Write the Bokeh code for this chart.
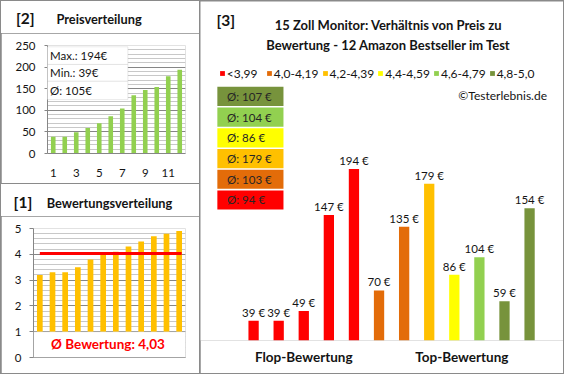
import bisect
from bokeh.plotting import figure
from bokeh.models import Range1d, FixedTicker, BoxAnnotation, Label, Legend, LegendItem, Div
from bokeh.layouts import row, column
from bokeh.embed import file_html
from bokeh.resources import INLINE
from bokeh.core.properties import value

# ---------------- data ----------------
# products in the order of the main chart (sorted by rating)
ratings = [3.2, 3.3, 3.3, 3.5, 3.8, 4.0, 4.1, 4.3, 4.5, 4.7, 4.8, 4.9]
prices = [39, 39, 49, 147, 194, 70, 135, 179, 86, 104, 59, 154]
price_axis_ticks = [1, 3, 5, 7, 9, 11]
price_y_ticks = [0, 50, 100, 150, 200, 250]
rating_y_ticks = [0, 1, 2, 3, 4, 5]
class_labels = ["<3,99", "4,0-4,19", "4,2-4,39", "4,4-4,59", "4,6-4,79", "4,8-5,0"]
class_bounds = [4.0, 4.2, 4.4, 4.6, 4.8]
class_colors = ["#FF0000", "#E36C09", "#FFC000", "#FFFF00", "#92D050", "#77933C"]
group_labels = ["Flop-Bewertung", "Top-Bewertung"]
group_ticks = [3, 9.3]
title_a = ["[2]", "Preisverteilung"]
title_b = ["[1]", "Bewertungsverteilung"]
title_c = ["[3]", "15 Zoll Monitor: Verhältnis von Preis zu",
           "Bewertung - 12 Amazon Bestseller im Test"]

# ---------------- derived ----------------
n = len(prices)
idx = list(range(1, n + 1))
prices_sorted = sorted(prices)
ratings_sorted = sorted(ratings)
classes = [bisect.bisect_right(class_bounds, r + 1e-9) for r in ratings]


def rhu(v):
    return int(v + 0.5)


def de(v, d=2):
    return f"{v:.{d}f}".replace(".", ",")


# ---------------- layout constants ----------------
TOTAL_W, TOTAL_H = 564, 374
SX = TOTAL_W / 580
SY = TOTAL_H / 390
WL, WR = 198, 363
HA, HB, HC = 182, 189, 372
STRIP = 32
FONT = "Lato"
TXT = "#141414"
BORDER = "#8a8a8a"
GMAJ = "#868686"
GMIN = "#c8c8c8"


def mapper(ox, oy, fl, ft, fw, fh, xr, yr):
    # ox, oy: screen position of the figure's top-left corner
    def px2x(px):
        return xr[0] + (px - fl) / fw * (xr[1] - xr[0])

    def py2y(py):
        return yr[0] + (ft + fh - py) / fh * (yr[1] - yr[0])

    def X(rx):
        return px2x(rx * SX - ox)

    def Y(ry):
        return py2y(ry * SY - oy)

    return X, Y


def label(p, x, y, text, size, bold=False, color=TXT, align="left"):
    p.add_layout(Label(x=x, y=y, text=text, text_font=FONT, text_font_size=size,
                       text_font_style="bold" if bold else "normal", text_color=color,
                       text_align=align, text_baseline="middle"))


def strip(w, h, ox, oy, texts):
    spans = []
    for rx, ry, t, size in texts:
        spans.append(
            f'<span style="position:absolute;left:{rx * SX - ox:.1f}px;top:{ry * SY - oy:.1f}px;'
            f'transform:translateY(-50%);font-size:{size};line-height:1;font-weight:bold;'
            f'white-space:nowrap;">{t}</span>')
    html = (f'<div style="position:relative;width:{w}px;height:{h}px;font-family:{FONT};'
            f'color:{TXT};overflow:hidden;">' + "".join(spans) + "</div>")
    return Div(text=html, width=w, height=h, margin=(0, 0, 0, 0),
               styles={"background-color": "white"})


def style_axes(p):
    for ax in p.axis:
        ax.axis_line_color = GMAJ
        ax.major_tick_line_color = GMAJ
        ax.minor_tick_line_color = None
        ax.major_tick_in = 0
        ax.major_label_text_font = FONT
        ax.major_label_text_font_size = "11.5px"
        ax.major_label_text_color = TXT
    p.xgrid.visible = False
    p.ygrid.grid_line_color = GMAJ
    p.ygrid.minor_grid_line_color = GMIN
    p.outline_line_color = None


# ---------------- panel [2] Preisverteilung ----------------
sA = strip(WL, STRIP, 1, 1, [(16.5, 20, title_a[0], "15.5px"), (58, 20, title_a[1], "12.8px")])
hA = HA - STRIP
flA, ftA, fwA, fhA = 46, 12, 138, 108
xrA, yrA = (0.5, n + 0.5), (0, 250)
pA = figure(width=WL, height=hA, x_range=Range1d(*xrA), y_range=Range1d(*yrA),
            output_backend="svg", toolbar_location=None, title=None,
            min_border_left=flA, min_border_top=ftA,
            min_border_right=WL - flA - fwA, min_border_bottom=hA - ftA - fhA)
XA, YA = mapper(1, 1 + STRIP, flA, ftA, fwA, fhA, xrA, yrA)
pA.vbar(x=idx, top=prices_sorted, width=0.4, fill_color="#92D050", line_color=None)
pA.yaxis.ticker = FixedTicker(ticks=price_y_ticks, minor_ticks=list(range(0, 251, 10)))
pA.xaxis.ticker = FixedTicker(ticks=price_axis_ticks)
style_axes(pA)
pA.yaxis.major_tick_out = 3
pA.yaxis.major_label_standoff = 8
pA.xaxis.major_tick_out = 0
pA.xaxis.major_tick_line_color = None
pA.xaxis.major_label_standoff = 15

stats = [f"Max.: {max(prices)}€", f"Min.: {min(prices)}€", f"Ø: {rhu(sum(prices) / n)}€"]
rows_ref = [48.3, 66.7, 84.3, 103.3]
for i, s in enumerate(stats):
    pA.add_layout(BoxAnnotation(left=XA(42.3), right=XA(131), top=YA(rows_ref[i]),
                                bottom=YA(rows_ref[i + 1]), fill_color="white", fill_alpha=1,
                                line_color="#bdbdbd", line_width=1))
    label(pA, XA(51), YA((rows_ref[i] + rows_ref[i + 1]) / 2), s, "11.5px")

# ---------------- panel [1] Bewertungsverteilung ----------------
oyB = 1 + HA + 1
sB = strip(WL, STRIP, 1, oyB, [(14, 211.7, title_b[0], "15.5px"), (48, 211.7, title_b[1], "12.8px")])
hB = HB - STRIP
flB, ftB, fwB, fhB = 32, 12, 152, 129
xrB, yrB = (0.5, n + 0.5), (0, 5)
pB = figure(width=WL, height=hB, x_range=Range1d(*xrB), y_range=Range1d(*yrB),
            output_backend="svg", toolbar_location=None, title=None,
            min_border_left=flB, min_border_top=ftB,
            min_border_right=WL - flB - fwB, min_border_bottom=hB - ftB - fhB)
XB, YB = mapper(1, oyB + STRIP, flB, ftB, fwB, fhB, xrB, yrB)
pB.vbar(x=idx, top=ratings_sorted, width=0.45, fill_color="#FFC000", line_color=None)
mean_rating = sum(ratings) / n
pB.line(x=[1, n + 0.2], y=[mean_rating, mean_rating], line_color="#FF0000", line_width=3)
pB.yaxis.ticker = FixedTicker(ticks=rating_y_ticks, minor_ticks=[i / 5 for i in range(26)])
pB.xaxis.ticker = FixedTicker(ticks=[])
style_axes(pB)
pB.yaxis.major_tick_out = 4
pB.yaxis.major_label_standoff = 8
pB.add_layout(BoxAnnotation(left=xrB[0], right=xrB[1], top=1, bottom=0,
                            fill_color="white", fill_alpha=1, line_color="#a6a6a6", line_width=1))
label(pB, XB(110.5), YB(358), f"Ø Bewertung: {de(mean_rating)}", "13.5px", bold=True,
      color="#FF0000", align="center")

# ---------------- panel [3] main chart ----------------
oxC, oyC = 1 + WL + 1, 1
flC, ftC, fwC, fhC = 0, 0, WR, 339
xrC, yrC = (-1.116, 13.352), (18.9, 365.1)
pC = figure(width=WR, height=HC, x_range=Range1d(*xrC), y_range=Range1d(*yrC),
            output_backend="svg", toolbar_location=None, title=None,
            y_axis_location=None,
            min_border_left=0, min_border_top=0, min_border_right=0,
            min_border_bottom=HC - fhC)
XC, YC = mapper(oxC, oyC, flC, ftC, fwC, fhC, xrC, yrC)
bar_colors = [class_colors[c] for c in classes]
bars = pC.vbar(x=idx, top=prices, bottom=yrC[0], width=0.41, fill_color=bar_colors,
               line_color=None)
pC.text(x=idx, y=prices, text=[f"{v} €" for v in prices], text_align="center",
        text_baseline="bottom", y_offset=-2, text_font=value(FONT),
        text_font_size="11.5px", text_color=TXT)
pC.grid.visible = False
pC.outline_line_color = None
ax = pC.xaxis[0]
ax.ticker = FixedTicker(ticks=group_ticks)
ov = {}
for t, g in zip(group_ticks, group_labels):
    ov[t] = g
    ov[str(t)] = g
ax.major_label_overrides = ov
ax.axis_line_color = None
ax.major_tick_line_color = None
ax.minor_tick_line_color = None
ax.major_label_text_font = FONT
ax.major_label_text_font_style = "bold"
ax.major_label_text_font_size = "13.5px"
ax.major_label_text_color = TXT
ax.major_label_standoff = 2

# legend
items = []
for k, lab in enumerate(class_labels):
    first = classes.index(k)
    items.append(LegendItem(label=value(lab), renderers=[bars], index=first))
legend = Legend(items=items, orientation="horizontal",
                location=(225 * SX - oxC, fhC - (77.7 * SY - oyC + 6)),
                glyph_width=6, glyph_height=6, label_standoff=2, spacing=3,
                label_width=36, label_height=12, padding=0, margin=0,
                border_line_color=None, background_fill_alpha=0,
                label_text_font=FONT, label_text_font_size="12px", label_text_color=TXT)
pC.add_layout(legend)

# group averages
for r, k in enumerate(reversed(range(len(class_labels)))):
    vals = [p for p, c in zip(prices, classes) if c == k]
    avg = rhu(sum(vals) / len(vals))
    top = 90 + r * 21.6
    pC.add_layout(BoxAnnotation(left=XC(223), right=XC(291), top=YC(top), bottom=YC(top + 20),
                                fill_color=class_colors[k], fill_alpha=1, line_color=None))
    label(pC, XC(233), YC(top + 10), f"Ø: {avg} €", "11.5px", color="#262626")

label(pC, XC(222), YC(20), title_c[0], "15.5px", bold=True)
label(pC, XC(399), YC(25.5), title_c[1], "13px", bold=True, align="center")
label(pC, XC(399), YC(46), title_c[2], "13px", bold=True, align="center")
label(pC, XC(562), YC(98.7), "©Testerlebnis.de", "12px", align="right")

left = column(column(sA, pA), column(sB, pB), spacing=1)
layout = row(left, pC, spacing=1,
             styles={"background-color": BORDER, "padding": "1px"})
open("out.html", "w").write(file_html(layout, INLINE))
